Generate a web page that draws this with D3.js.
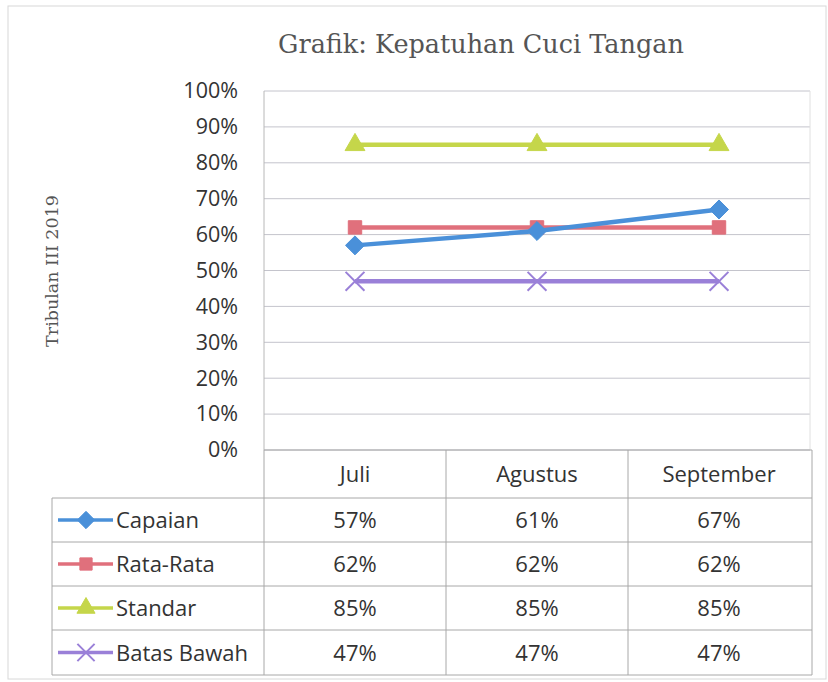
<!DOCTYPE html>
<html>
<head>
<meta charset="utf-8">
<script src="https://cdn.jsdelivr.net/npm/d3@7/dist/d3.min.js"></script>
<style>
  body { margin: 0; background: #fff; }
  text { fill: #333; }
</style>
</head>
<body>
<div id="chart"></div>
<script>
// Data
var months = ["Juli", "Agustus", "September"];
var seriesNames = ["Capaian", "Rata-Rata", "Standar", "Batas Bawah"];
var capaian = [0.57, 0.61, 0.67];
var rataRata = [0.62, 0.62, 0.62];
var standar = [0.85, 0.85, 0.85];
var batasBawah = [0.47, 0.47, 0.47];
var yTicks = [0, 0.1, 0.2, 0.3, 0.4, 0.5, 0.6, 0.7, 0.8, 0.9, 1.0];

var seriesColors = ["#4a90d9", "#e0707c", "#c5d64a", "#9a80d8"];
var seriesMarkers = ["diamond", "square", "triangle", "x"];
var seriesValues = [capaian, rataRata, standar, batasBawah];

var series = seriesNames.map(function(name, i) {
  return { name: name, values: seriesValues[i], color: seriesColors[i], marker: seriesMarkers[i] };
});

var svgWidth = 828;
var svgHeight = 682;

var plot = { left: 264, right: 810, top: 91, bottom: 450 };
var tableRows = [450, 498, 542, 586, 630, 675];
var tableLeft = 52;
var tableRight = 812;

var svg = d3.select("#chart")
  .append("svg")
  .attr("width", svgWidth)
  .attr("height", svgHeight);

// outer page border
svg.append("rect")
  .attr("x", 8).attr("y", 6)
  .attr("width", 818).attr("height", 673)
  .attr("fill", "none")
  .attr("stroke", "#d8d8d8")
  .attr("stroke-width", 1);

// Scales
var xScale = d3.scaleBand()
  .domain(months)
  .range([plot.left, plot.right]);

var yScale = d3.scaleLinear()
  .domain([0, 1])
  .range([plot.bottom, plot.top]);

// Title
svg.append("text")
  .attr("x", 481)
  .attr("y", 53)
  .attr("text-anchor", "middle")
  .style("font-family", "'DejaVu Serif', serif")
  .style("font-size", "25.5px")
  .style("fill", "#555")
  .text("Grafik: Kepatuhan Cuci Tangan");

// Y axis title
svg.append("text")
  .attr("transform", "translate(58, 271) rotate(-90)")
  .attr("text-anchor", "middle")
  .style("font-family", "'DejaVu Serif', serif")
  .style("font-size", "17.5px")
  .style("fill", "#555")
  .text("Tribulan III 2019");

// Gridlines
svg.append("g")
  .selectAll("line")
  .data(yTicks)
  .enter()
  .append("line")
  .attr("x1", plot.left)
  .attr("x2", plot.right)
  .attr("y1", d => yScale(d))
  .attr("y2", d => yScale(d))
  .attr("stroke", "#c4c4cc")
  .attr("stroke-width", 1);

// Plot side borders
svg.append("line")
  .attr("x1", plot.left).attr("x2", plot.left)
  .attr("y1", plot.top).attr("y2", plot.bottom)
  .attr("stroke", "#b8b8b8");
svg.append("line")
  .attr("x1", plot.right).attr("x2", plot.right)
  .attr("y1", plot.top).attr("y2", plot.bottom)
  .attr("stroke", "#e0e0e0");

// Y axis labels
var leftAxis = d3.axisLeft(yScale)
  .tickValues(yTicks)
  .tickFormat(d3.format(".0%"))
  .tickSize(0)
  .tickPadding(26);

var yAxis = svg.append("g")
  .attr("transform", `translate(${plot.left},0)`)
  .call(leftAxis);
yAxis.select(".domain").remove();
yAxis.selectAll("text")
  .style("font-family", "'Open Sans', sans-serif")
  .style("font-size", "21.5px")
  .style("fill", "#333");

// square diamond (Excel style)
var squareDiamond = {
  draw: function(ctx, size) {
    var r = Math.sqrt(size / 2);
    ctx.moveTo(0, -r);
    ctx.lineTo(r, 0);
    ctx.lineTo(0, r);
    ctx.lineTo(-r, 0);
    ctx.closePath();
  }
};

// marker symbols
function markerSymbol(type, size) {
  if (type === "diamond") return d3.symbol().type(squareDiamond).size(size)();
  if (type === "square") return d3.symbol().type(d3.symbolSquare).size(size)();
  if (type === "triangle") return d3.symbol().type(d3.symbolTriangle).size(size * 0.95)();
  return d3.symbol().type(d3.symbolTimes).size(size * 1.3)();
}

function drawMarker(g, s, x, y, size) {
  var p = g.append("path")
    .attr("d", markerSymbol(s.marker, size))
    .attr("transform", `translate(${x},${y})`);
  if (s.marker === "x") {
    p.attr("fill", "none").attr("stroke", s.color).attr("stroke-width", 2);
  } else {
    p.attr("fill", s.color).attr("stroke", s.color).attr("stroke-width", 1);
  }
}

var line = d3.line()
  .x((d, i) => xScale(months[i]) + xScale.bandwidth() / 2)
  .y(d => yScale(d));

// Lines + markers (draw in reverse so Capaian is on top)
var lineGroup = svg.append("g");
series.slice().reverse().forEach(function(s) {
  lineGroup.append("path")
    .datum(s.values)
    .attr("d", line)
    .attr("fill", "none")
    .attr("stroke", s.color)
    .attr("stroke-width", 4.5);
  s.values.forEach(function(v, i) {
    drawMarker(lineGroup, s, xScale(months[i]) + xScale.bandwidth() / 2, yScale(v), 180);
  });
});

// Data table
var table = svg.append("g");
var gridColor = "#a8a8a8";

// horizontal lines (header row only spans the month columns)
table.selectAll("line.h")
  .data(tableRows)
  .enter()
  .append("line")
  .attr("class", "h")
  .attr("x1", (d, i) => i === 0 ? plot.left : tableLeft)
  .attr("x2", tableRight)
  .attr("y1", d => d)
  .attr("y2", d => d)
  .attr("stroke", gridColor);

// vertical lines
var vLines = [plot.left, xScale("Agustus"), xScale("September"), tableRight];
vLines.forEach(function(x) {
  table.append("line")
    .attr("x1", x).attr("x2", x)
    .attr("y1", tableRows[0]).attr("y2", tableRows[5])
    .attr("stroke", gridColor);
});
table.append("line")
  .attr("x1", tableLeft).attr("x2", tableLeft)
  .attr("y1", tableRows[1]).attr("y2", tableRows[5])
  .attr("stroke", gridColor);

var cellFont = "'Open Sans', sans-serif";
var cellSize = "22px";

// header
months.forEach(function(m) {
  table.append("text")
    .attr("x", xScale(m) + xScale.bandwidth() / 2)
    .attr("y", (tableRows[0] + tableRows[1]) / 2 + 8)
    .attr("text-anchor", "middle")
    .style("font-family", cellFont)
    .style("font-size", cellSize)
    .text(m);
});

// rows
var pct = d3.format(".0%");
series.forEach(function(s, r) {
  var yMid = (tableRows[r + 1] + tableRows[r + 2]) / 2;
  // legend key
  table.append("line")
    .attr("x1", 58).attr("x2", 113)
    .attr("y1", yMid).attr("y2", yMid)
    .attr("stroke", s.color)
    .attr("stroke-width", 3.5);
  drawMarker(table, s, 86, yMid, 150);
  table.append("text")
    .attr("x", 116)
    .attr("y", yMid + 8)
    .style("font-family", cellFont)
    .style("font-size", cellSize)
    .text(s.name);
  s.values.forEach(function(v, i) {
    table.append("text")
      .attr("x", xScale(months[i]) + xScale.bandwidth() / 2)
      .attr("y", yMid + 8)
      .attr("text-anchor", "middle")
      .style("font-family", cellFont)
      .style("font-size", cellSize)
      .text(pct(v));
  });
});
</script>
</body>
</html>
